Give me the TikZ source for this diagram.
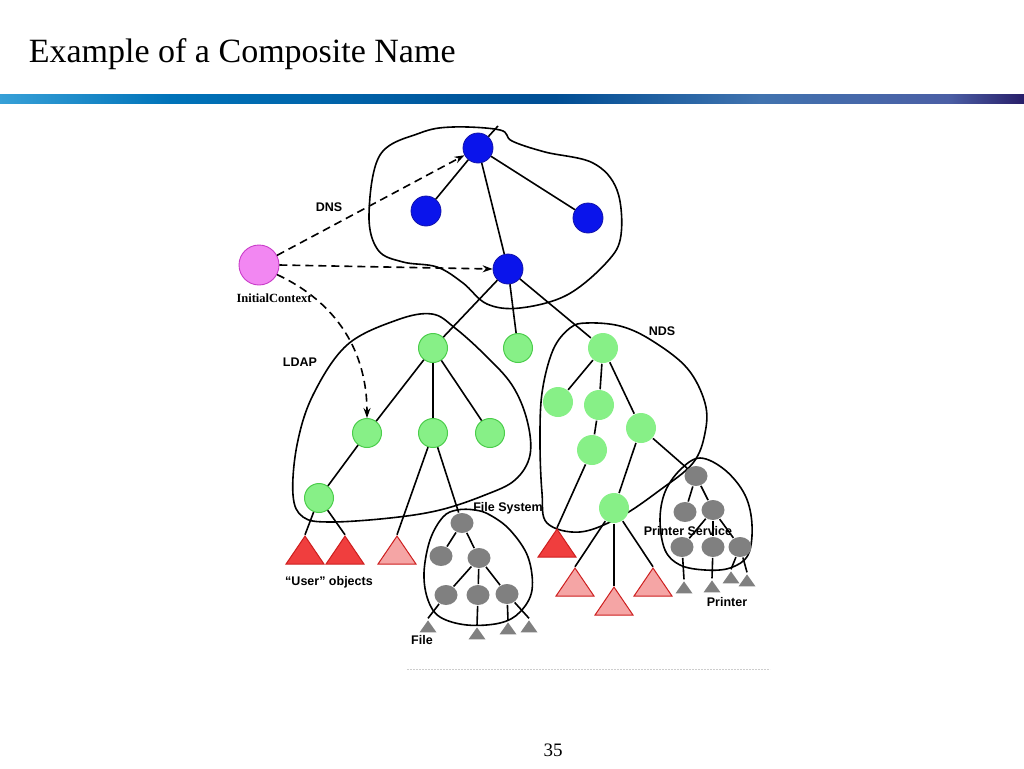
\documentclass[tikz,border=0pt]{standalone}
\usepackage{fontspec}
\setmainfont{Liberation Serif}
\newfontfamily\labelfont{Liberation Sans}
\usetikzlibrary{arrows.meta,shapes.geometric}

\definecolor{dnsblue}{RGB}{10,20,235}
\definecolor{dnsline}{RGB}{20,20,170}
\definecolor{ctxfill}{RGB}{242,135,242}
\definecolor{ctxline}{RGB}{200,60,200}
\definecolor{leaffill}{RGB}{135,240,135}
\definecolor{leafline}{RGB}{75,205,75}
\definecolor{fsgray}{RGB}{128,128,128}
\definecolor{objred}{RGB}{240,62,62}
\definecolor{objredline}{RGB}{205,30,30}
\definecolor{objpink}{RGB}{245,165,165}
\definecolor{barA}{RGB}{55,160,215}
\definecolor{barB}{RGB}{0,115,185}
\definecolor{barC}{RGB}{0,78,148}
\definecolor{barD}{RGB}{65,115,175}
\definecolor{barE}{RGB}{75,95,165}
\definecolor{barF}{RGB}{40,30,105}

\begin{document}
\begin{tikzpicture}[x=1pt,y=-1pt,line width=1.6pt,>={Stealth[length=10pt,width=7pt]},
  dnsnode/.style={circle,fill=dnsblue,draw=dnsline,line width=0.8pt,minimum size=30pt,inner sep=0pt},
  ctxnode/.style={circle,fill=ctxfill,draw=ctxline,line width=0.9pt,minimum size=40pt,inner sep=0pt},
  ldapnode/.style={circle,fill=leaffill,draw=leafline,line width=1pt,minimum size=29pt,inner sep=0pt},
  ndsnode/.style={circle,fill=leaffill,minimum size=30pt,inner sep=0pt},
  grnode/.style={ellipse,fill=fsgray,minimum width=23pt,minimum height=20pt,inner sep=0pt},
  objtri/.style={isosceles triangle,shape border rotate=90,isosceles triangle stretches,
    minimum width=38pt,minimum height=28pt,inner sep=0pt,line width=1pt},
  redobj/.style={objtri,fill=objred,draw=objredline},
  pinkobj/.style={objtri,fill=objpink,draw=objredline},
  grtri/.style={isosceles triangle,shape border rotate=90,isosceles triangle stretches,
    minimum width=17pt,minimum height=12pt,inner sep=0pt,fill=fsgray},
  blob/.style={line width=1.6pt},
  lbl/.style={font=\labelfont\bfseries\fontsize{12.5}{14}\selectfont,inner sep=0pt},
  ctxarrow/.style={->,dash pattern=on 8pt off 5pt,line width=1.6pt}]
\useasboundingbox (0,0) rectangle (1024,768);
% ---------- title, bar, page number ----------
\node[anchor=base west,inner sep=0pt,font=\fontsize{34}{37}\selectfont] (title) at (28,63) {Example of a Composite Name};
\shade[left color=barA,right color=barB] (0,94) rectangle (170,103);
\shade[left color=barB,right color=barC] (170,94) rectangle (555,103);
\shade[left color=barC,right color=barD] (555,94) rectangle (760,103);
\shade[left color=barD,right color=barE] (760,94) rectangle (948,103);
\shade[left color=barE,right color=barF] (948,94) rectangle (1024,103);
\node[anchor=base,inner sep=0pt,font=\fontsize{19}{20}\selectfont] (pagenum) at (553,756) {35};
\draw[line width=1pt,color={rgb,255:red,205;green,205;blue,205},dash pattern=on 2pt off 1pt] (407,669) -- (770,669);
% ---------- naming-system outlines ----------
\draw[blob] plot[smooth cycle,tension=0.6] coordinates {(380,155) (420,133) (453,127) (500,130) (512,141)
  (545,152) (593,163) (617,190) (621,235) (607,262) (567,295) (520,308) (487,304) (463,283)
  (437,267) (403,262) (378,250) (369,215)};
\draw[blob] plot[smooth cycle,tension=0.6] coordinates {(432,314) (455,328) (485,355) (512,385) (527,420)
  (530,455) (515,480) (485,495) (440,510) (390,518) (330,522) (303,517) (293,495) (297,445)
  (313,395) (347,345) (397,320)};
\draw[blob] plot[smooth cycle,tension=0.6] coordinates {(570,328) (587,323) (620,326) (651,340) (687,368)
  (705,403) (705,433) (693,463) (660,490) (620,517) (580,532) (547,523) (542,493) (540,443)
  (542,393) (553,350)};
\draw[blob] plot[smooth cycle,tension=0.6] coordinates {(457,510) (475,510) (490,515) (510,530) (528,557)
  (532,590) (520,612) (500,623) (467,625) (440,617) (428,600) (424,573) (430,540) (443,517)};
\draw[blob] plot[smooth cycle,tension=0.6] coordinates {(700,458) (725,470) (745,495) (752,525) (748,555)
  (730,568) (705,570) (680,565) (665,550) (660,520) (665,492) (680,470)};
% ---------- DNS ----------
\node[dnsnode] (d1) at (478,148) {};
\node[dnsnode] (d2) at (426,211) {};
\node[dnsnode] (d3) at (588,218) {};
\node[dnsnode] (d4) at (508,269) {};
\coordinate (dtop) at (498,126);
% ---------- initial context ----------
\node[ctxnode] (ic) at (259,265) {};
% ---------- LDAP and NDS ----------
\node[ldapnode] (l1) at (433,348) {};
\node[ldapnode] (l2) at (367,433) {};
\node[ldapnode] (l3) at (433,433) {};
\node[ldapnode] (l4) at (490,433) {};
\node[ldapnode] (l5) at (319,498) {};
\node[ldapnode] (g1) at (518,348) {};
\node[ndsnode] (n1) at (603,348) {};
\node[ndsnode] (n2) at (558,402) {};
\node[ndsnode] (n3) at (599,405) {};
\node[ndsnode] (n4) at (592,450) {};
\node[ndsnode] (n5) at (641,428) {};
\node[ndsnode] (n6) at (614,508) {};
% ---------- file system and printer service ----------
\node[grnode] (f1) at (462,523) {};
\node[grnode] (f2) at (441,556) {};
\node[grnode] (f3) at (479,558) {};
\node[grnode] (f4) at (446,595) {};
\node[grnode] (f5) at (478,595) {};
\node[grnode] (f6) at (507,594) {};
\node[grnode] (p1) at (696,476) {};
\node[grnode] (p2) at (685,512) {};
\node[grnode] (p3) at (713,510) {};
\node[grnode] (p4) at (682,547) {};
\node[grnode] (p5) at (713,547) {};
\node[grnode] (p6) at (740,547) {};
% ---------- objects ----------
\node[redobj] (u1) at (305,554) {};
\node[redobj] (u2) at (345,554) {};
\node[pinkobj] (u3) at (397,554) {};
\node[redobj] (t4) at (557,547) {};
\node[pinkobj] (t5) at (575,586) {};
\node[pinkobj] (t6) at (614,605) {};
\node[pinkobj] (t7) at (653,586) {};
\node[grtri] (r1) at (428,628) {};
\node[grtri] (r2) at (477,635) {};
\node[grtri] (r3) at (508,630) {};
\node[grtri] (r4) at (529,628) {};
\node[grtri] (q1) at (684,589) {};
\node[grtri] (q2) at (712,588) {};
\node[grtri] (q3) at (731,579) {};
\node[grtri] (q4) at (747,582) {};
% ---------- tree edges ----------
\foreach \a/\b in {d1/dtop,d1/d2,d1/d3,d1/d4,d4/l1,d4/g1,d4/n1,l1/l2,l1/l3,l1/l4,l2/l5,l3/f1,
  n1/n2,n1/n3,n1/n5,n3/n4,n5/n6,n5/p1,f1/f2,f1/f3,f3/f4,f3/f5,f3/f6,p1/p2,p1/p3,p3/p4,p3/p5,p3/p6}
  \draw (\a) -- (\b);
\foreach \a/\b in {l5/u1,l5/u2,l3/u3,n4/t4,n6/t5,n6/t6,n6/t7,f4/r1,f5/r2,f6/r3,f6/r4,p4/q1,p5/q2,p6/q3,p6/q4}
  \draw (\a) -- (\b.apex);
% ---------- context lookups ----------
\draw[ctxarrow] (ic) -- (d1);
\draw[ctxarrow] (ic.east) -- (d4.west);
\draw[ctxarrow] (ic.-28) to[out=-25,in=90] (l2.north);
% ---------- labels ----------
\node[lbl] (dnslbl) at (329,207) {DNS};
\node[lbl] (ldaplbl) at (300,362) {LDAP};
\node[lbl] (ndslbl) at (662,331) {NDS};
\node[lbl] (fslbl) at (508,508) {File System};
\node[lbl] (pslbl) at (688,531) {Printer Service};
\node[lbl] (prlbl) at (727,602) {Printer};
\node[lbl] (filelbl) at (422,640) {File};
\node[lbl] (userlbl) at (329,582) {“User” objects};
\node[inner sep=0pt,font=\bfseries\fontsize{12.5}{14}\selectfont] (iclbl) at (274,298) {InitialContext};
\end{tikzpicture}
\end{document}
